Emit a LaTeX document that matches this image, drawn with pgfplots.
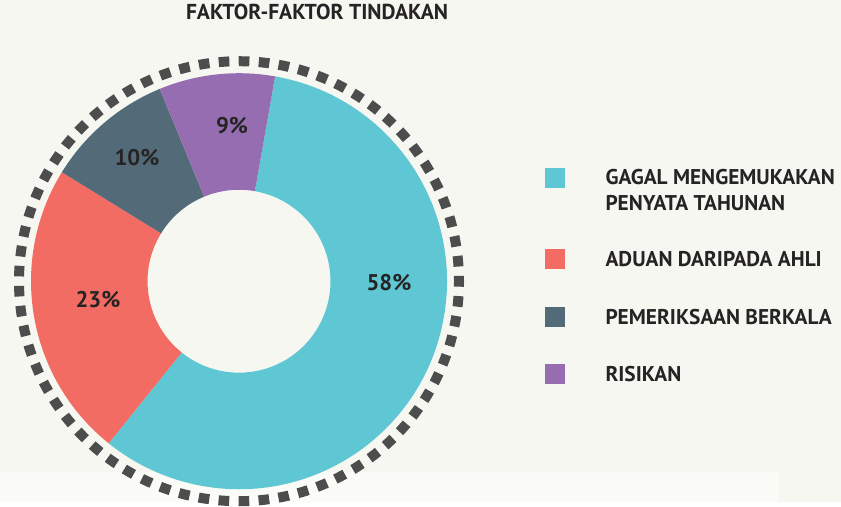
\documentclass[border=0pt]{standalone}
\usepackage{fontspec}
\setmainfont{PT Sans}
\usepackage{pgfplots}
\usepackage{pgfplotstable}
\pgfplotsset{compat=1.18}

\definecolor{bgcol}{HTML}{F7F7F2}
\definecolor{bandcol}{HTML}{FBFBF8}
\definecolor{ringcol}{HTML}{4D4D4D}
\definecolor{txtcol}{HTML}{252323}
\definecolor{sliceA}{HTML}{5FC7D3}
\definecolor{sliceB}{HTML}{F36C64}
\definecolor{sliceC}{HTML}{536B79}
\definecolor{sliceD}{HTML}{956DB0}

\pgfdeclareplotmark{nothing}{}

% slices: share, share before it (clockwise from 80 deg), colour, label spot (px)
\pgfplotstableread{
pct cum col    lx  ly
58  0   sliceA 389 220
23  58  sliceB 98  203
10  81  sliceC 137 345
9   91  sliceD 232 377
}\slices

\begin{document}
\begin{tikzpicture}
\begin{axis}[
  scale only axis, width=630.75pt, height=376.5pt,
  xmin=0, xmax=841, ymin=0, ymax=502,
  hide axis, clip=false,
  title={FAKTOR-FAKTOR TINDAKAN},
  title style={at={(0.377,0.960)}, anchor=center, yshift=0pt,
    font=\fontsize{16.2}{19}\selectfont\bfseries, text=txtcol},
  legend image code/.code={\fill[#1] (0pt,-1.5pt) rectangle (14.25pt,12.75pt);},
  legend style={at={(axis cs:545,334.5)}, anchor=north west, draw=none, fill=none,
    inner sep=0pt, outer sep=0pt, row sep=28.5pt, column sep=30.75pt,
    cells={anchor=base west}, nodes={inner sep=0pt, text depth={}, text=txtcol},
    font=\fontsize{16}{19.5}\selectfont\bfseries},
]
\fill[bgcol] (rel axis cs:0,0) rectangle (rel axis cs:1,1);
\fill[bandcol] (axis cs:0,0) rectangle (axis cs:778,30);
\draw[ringcol, line width=7.5pt, dash pattern=on 8pt off 7.025pt, dash phase=4pt]
  (axis cs:239,221) circle[radius=165pt];

% donut wedges
\addplot[forget plot, scatter, only marks, mark=nothing, point meta=explicit symbolic,
  visualization depends on={\thisrow{cum}\as\cum},
  visualization depends on={\thisrow{pct}\as\pct},
  scatter/@pre marker code/.code={%
    \pgfmathsetmacro\sa{80-3.6*\cum}%
    \pgfmathsetmacro\ea{80-3.6*(\cum+\pct)}%
    \path[fill=\pgfplotspointmeta, draw=none]
      (\sa:156pt) arc[start angle=\sa, end angle=\ea, radius=156pt]
      -- (\ea:68.6pt) arc[start angle=\ea, end angle=\sa, radius=68.6pt] -- cycle;
  },
  scatter/@post marker code/.code={},
] table[x expr=239, y expr=221, meta=col] {\slices};

% percentages
\addplot[forget plot, only marks, mark=nothing, point meta=explicit symbolic,
  nodes near coords={\pgfplotspointmeta\%},
  every node near coord/.append style={anchor=center, inner sep=0pt,
    font=\fontsize{17}{20}\selectfont\bfseries, text=txtcol}]
  table[x=lx, y=ly, meta=pct] {\slices};

\addlegendimage{sliceA}
\addlegendentry{\vtop{\hbox{GAGAL MENGEMUKAKAN}\hbox{PENYATA TAHUNAN}}}
\addlegendimage{sliceB}
\addlegendentry{ADUAN DARIPADA AHLI}
\addlegendimage{sliceC}
\addlegendentry{PEMERIKSAAN BERKALA}
\addlegendimage{sliceD}
\addlegendentry{RISIKAN}
\end{axis}
\end{tikzpicture}
\end{document}
